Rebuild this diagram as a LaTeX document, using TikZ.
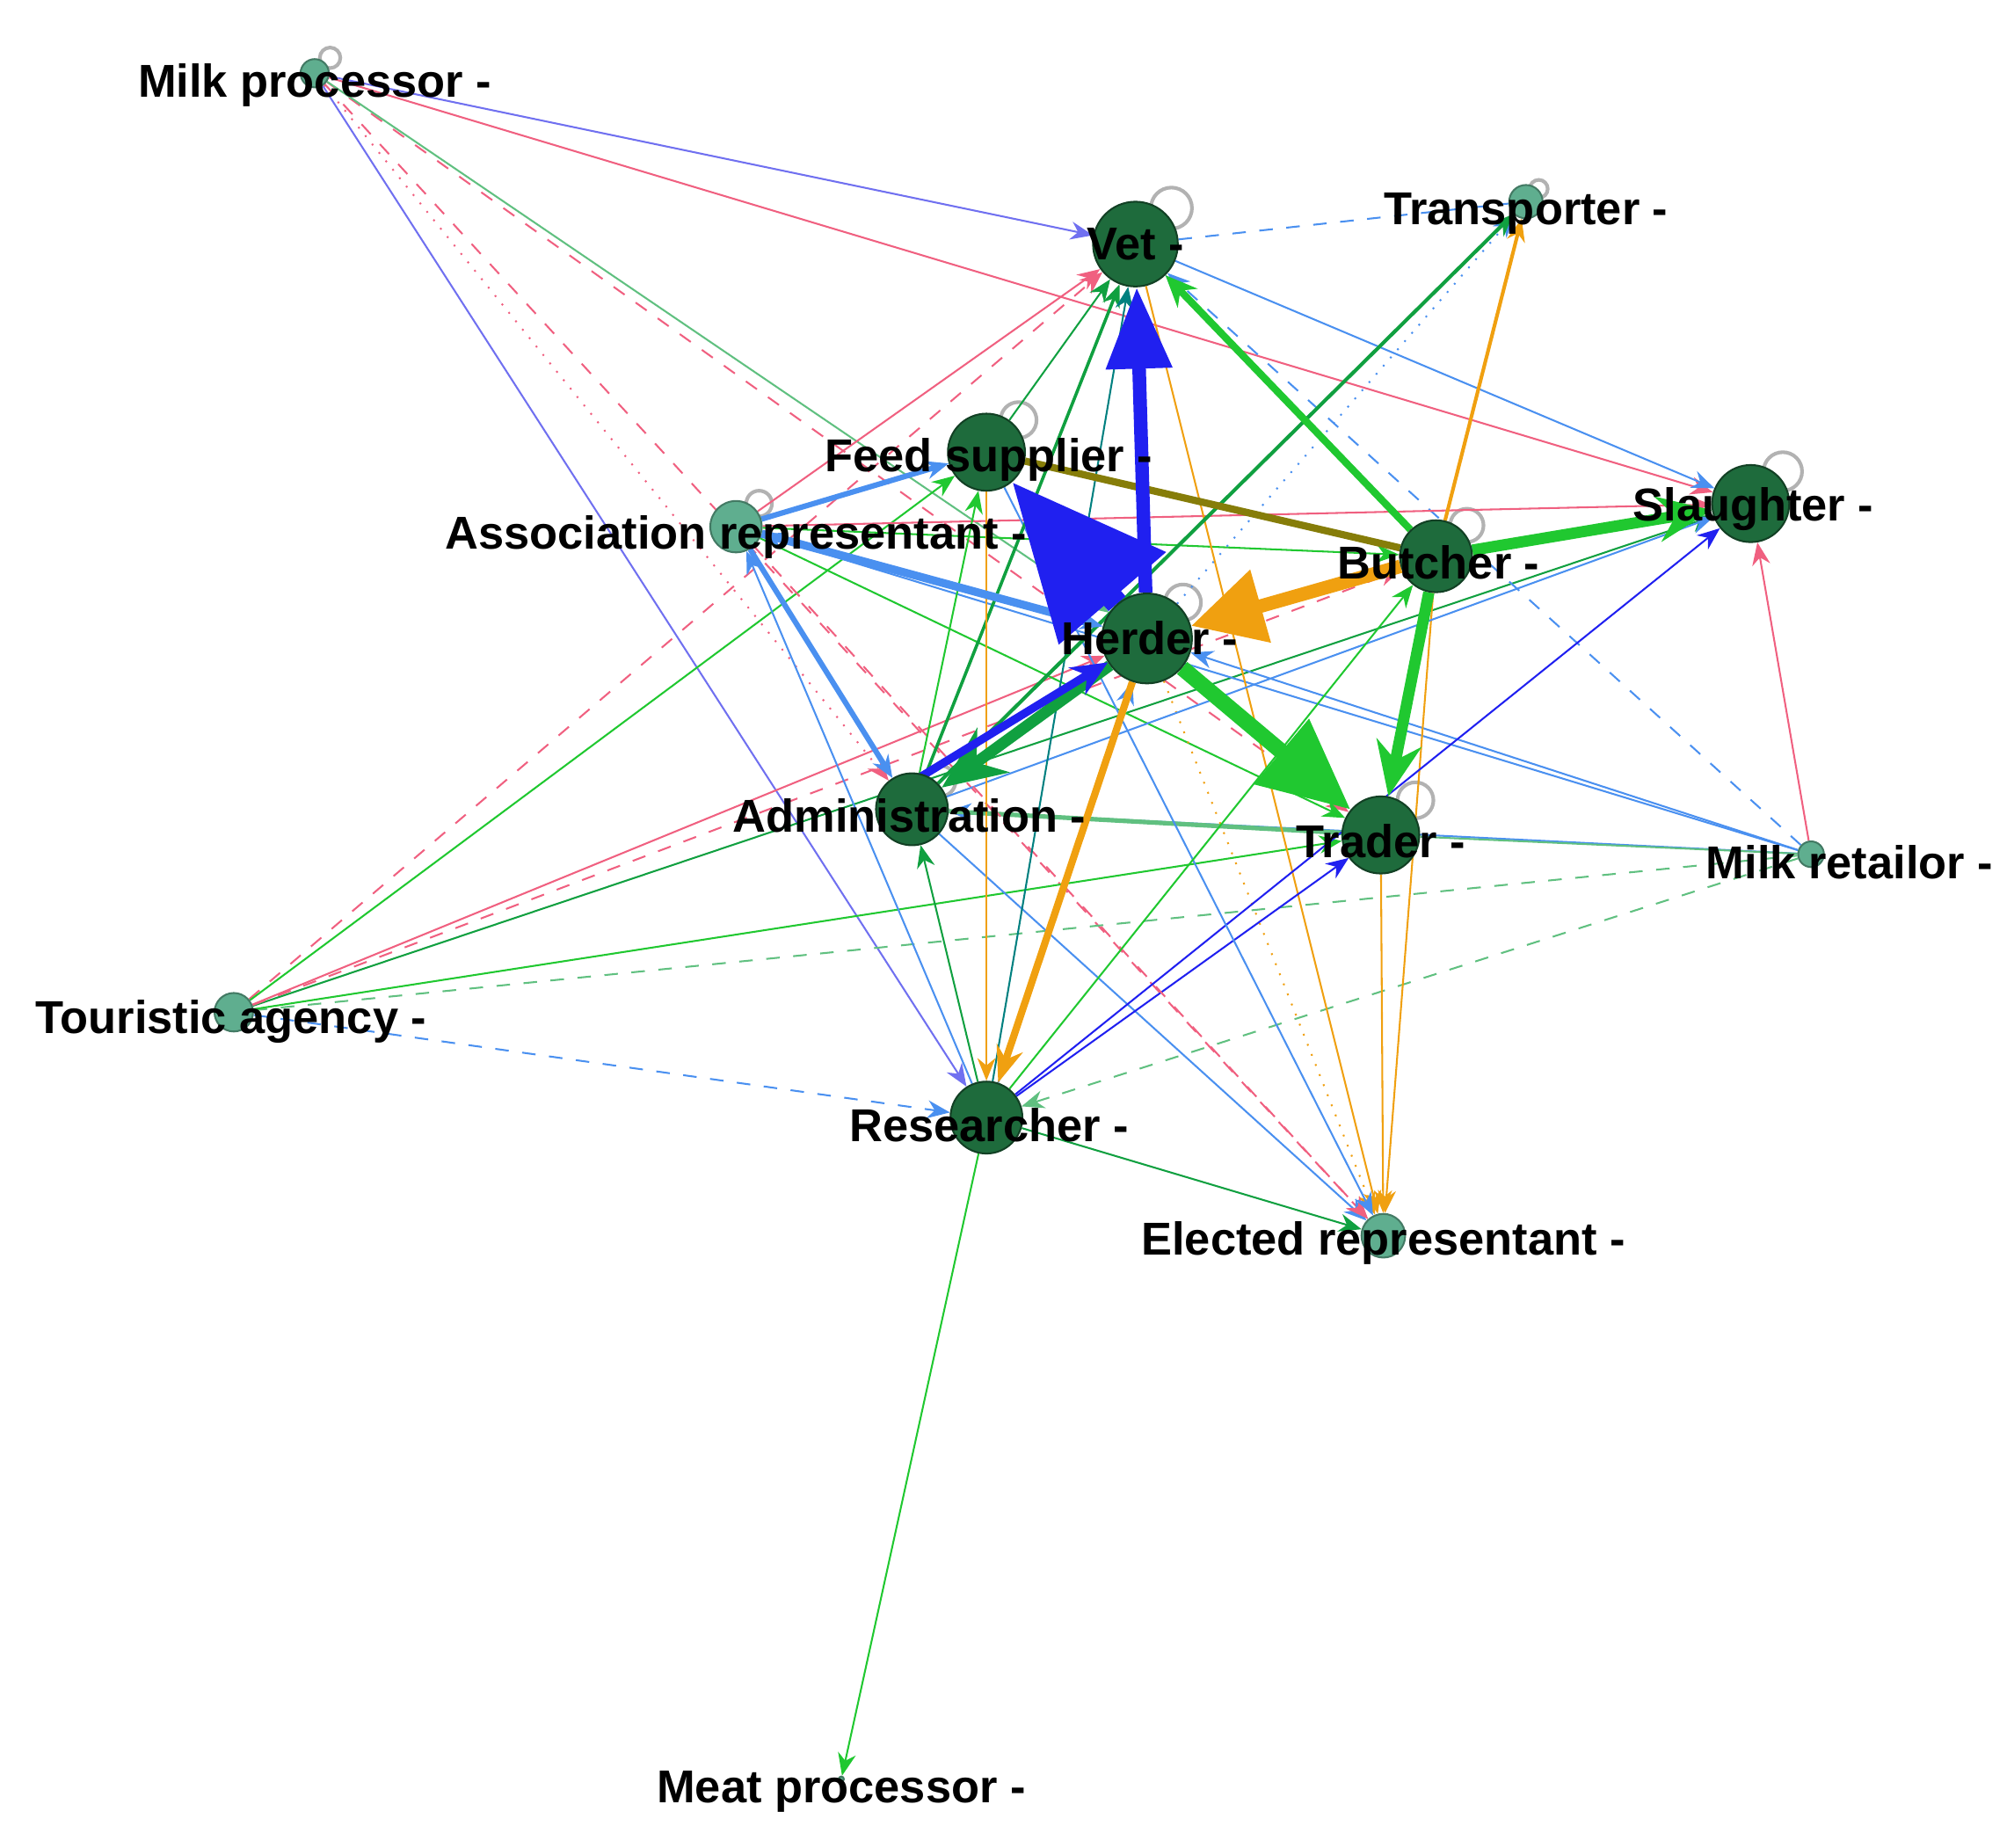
\documentclass[tikz,border=0pt]{standalone}
\usepackage{fontspec}
\setmainfont{Liberation Sans}
\usetikzlibrary{arrows.meta}
\pgfdeclarelayer{bg}\pgfsetlayers{bg,main}
\definecolor{big}{HTML}{1E6B3C}
\definecolor{sm}{HTML}{5FAE8F}
\definecolor{bl}{HTML}{2020F0}
\definecolor{lb}{HTML}{4A90F0}
\definecolor{gr}{HTML}{20C830}
\definecolor{dg}{HTML}{10A040}
\definecolor{or}{HTML}{F0A010}
\definecolor{pk}{HTML}{F06080}
\definecolor{pu}{HTML}{7070F0}
\definecolor{lg}{HTML}{60C080}
\tikzset{
 bign/.style={circle,fill=big,draw=big!60!black,inner sep=0pt,minimum size=#1*0.01cm},
 smn/.style={circle,fill=sm,draw=sm!70!black,inner sep=0pt,minimum size=#1*0.01cm},
 lab/.style={font=\fontsize{10.2}{12}\selectfont\bfseries,inner sep=0pt},
 e/.style={line width=0.4pt},
 a/.style={-{Stealth[length=5pt,width=4pt]}},
 th/.style={line width=#1},
 loop/.style={draw=gray!60,line width=0.8pt,fill=none}
}
\begin{document}
\begin{tikzpicture}[x=0.01cm,y=-0.01cm]
\useasboundingbox (0,0) rectangle (1568,1438);
\node[smn=22] (mp) at (245,57) {};
\node[bign=66] (vet) at (884,190) {};
\node[smn=26] (tr) at (1188,157) {};
\node[bign=60] (fs) at (768,352) {};
\node[smn=40] (as) at (573,410) {};
\node[bign=60] (sl) at (1363,392) {};
\node[bign=56] (bu) at (1118,433) {};
\node[bign=70] (he) at (893,497) {};
\node[bign=56] (ad) at (710,630) {};
\node[bign=60] (td) at (1075,650) {};
\node[smn=20] (mr) at (1410,665) {};
\node[smn=30] (ta) at (182,788) {};
\node[bign=56] (re) at (768,870) {};
\node[smn=34] (el) at (1077,962) {};
\node[smn=4] (me) at (655,1385) {};
\begin{pgfonlayer}{bg}
\foreach \n/\dx/\r in {vet/28/16,fs/25/14,sl/25/15,bu/24/13,he/28/14,td/27/14,as/18/10,ad/22/12,mp/12/8,tr/10/7}{
 \draw[loop] ([shift={(\dx,-\dx)}]\n.center) circle[radius=\r];}
% thin edges
\draw[e,pu,a] (mp) -- (vet);
\draw[e,pu,a] (mp) -- (re);
\draw[e,pk,a] (mp) -- (sl);
\draw[e,pk,dashed,a] (mp) -- (el);
\draw[e,pk,dashed,a] (mp) -- (td);
\draw[e,lg,a] (mp) -- (he);
\draw[e,pk,dotted,a] (mp) -- (ad);
\draw[e,pk,dashed,a] (ta) -- (vet);
\draw[e,gr,a] (ta) -- (fs);
\draw[e,pk,a] (ta) -- (he);
\draw[e,dg,a] (ta) -- (sl);
\draw[e,lg,dashed] (ta) -- (mr);
\draw[e,gr,a] (ta) -- (td);
\draw[e,lb,dashed,a] (ta) -- (re);
\draw[e,pk,dashed,a] (ta) -- (bu);
\draw[e,lb,dashed,a] (mr) -- (vet);
\draw[e,lb,a] (mr) -- (he);
\draw[e,lb,a] (mr) -- (ad);
\draw[e,lg,dashed,a] (mr) -- (re);
\draw[e,pk,a] (mr) -- (sl);
\draw[e,lb,a] (mr) -- (as);
\draw[e,lg] (td) -- (mr);
\draw[e,lg,line width=1pt] (ad) -- (td);
\draw[e,dg,a] (re) -- (el);
\draw[e,gr,a] (re) -- (me);
\draw[e,lb,a] (ad) -- (el);
\draw[e,gr,a] (as) -- (td);
\draw[e,pk,a] (as) -- (sl);
\draw[e,pk,a] (as) -- (vet);
\draw[e,gr,a] (as) -- (bu);
\draw[e,dg,a] (fs) -- (vet);
\draw[e,lb,dotted,a] (he) -- (tr);
\draw[e,lb,dashed] (vet) -- (tr);
\draw[e,lb,a] (vet) -- (sl);
\draw[e,lb,dashed,a] (bu) -- (vet);
\draw[e,or,a] (vet) -- (el);
\draw[e,or,a] (td) -- (el);
\draw[e,or,a] (bu) -- (el);
\draw[e,or,dotted,a] (he) -- (el);
\draw[e,bl,a] (re) -- (sl);
\draw[e,bl,a] (re) -- (td);
\draw[e,lb,a] (ad) -- (sl);
\draw[e,pk,dashed,a] (as) -- (el);
\draw[e,lb,a] (fs) -- (el);
\draw[e,gr,a] (re) -- (bu);
\draw[e,lb,a] (re) -- (as);
\draw[e,dg,a] (re) -- (ad);
\draw[e,dg,line width=0.7pt,a] (ad) -- (vet);
\draw[e,teal,a] (re) -- (vet);
\draw[e,or,a] (fs) -- (re);
\draw[e,or,line width=0.8pt,a] (bu) -- (tr);
\draw[e,dg,line width=0.8pt,a] (ad) -- (tr);
\draw[e,lb,a] (re) -- (he);
\draw[e,gr,a] (ad) -- (fs);
% thick edges
\draw[lb,th=1.2pt,a] (as) -- (fs);
\draw[lb,th=1.2pt,a] (as) -- (ad);
\draw[lb,th=1.8pt,a] (as) -- (he);
\draw[or!80!green!70!black,th=1.6pt] (fs) -- (bu);
\draw[gr,th=1.6pt,-{Stealth[length=7pt,width=6pt]}] (bu) -- (vet);
\draw[or,th=1.6pt,-{Stealth[length=8pt,width=6pt]}] (he) -- (re);
\draw[gr,th=2.5pt,-{Stealth[length=12pt,width=10pt]}] (bu) -- (sl);
\draw[gr,th=2.5pt,-{Stealth[length=12pt,width=10pt]}] (bu) -- (td);
\draw[dg,th=2.5pt,-{Stealth[length=14pt,width=12pt]}] (he) -- (ad);
\draw[bl,th=1.8pt,-{Stealth[length=8pt,width=7pt]}] ([yshift=6]ad.center) -- (he);
\draw[or,th=3pt,-{Triangle[length=16pt,width=16pt]}] (bu) -- (he);
\draw[gr,th=3.5pt,-{Triangle[length=20pt,width=18pt]}] (he) -- (td);
\draw[bl,th=3pt,-{Triangle[length=18pt,width=14pt]}] (he) -- (vet);
\draw[bl,th=5pt,-{Triangle[length=34pt,width=30pt]}] (he) -- (fs);
\end{pgfonlayer}
\node[lab] (mpL) at (245,66) {Milk processor -};
\node[lab] (vetL) at (884,190) {Vet -};
\node[lab] (trL) at (1188,166) {Transporter -};
\node[lab] (fsL) at (770,358) {Feed supplier -};
\node[lab] (asL) at (573,418) {Association representant -};
\node[lab] (slL) at (1365,396) {Slaughter -};
\node[lab] (buL) at (1120,438) {Butcher -};
\node[lab] (heL) at (895,497) {Herder -};
\node[lab] (adL) at (708,635) {Administration -};
\node[lab] (tdL) at (1075,655) {Trader -};
\node[lab] (mrL) at (1440,671) {Milk retailor -};
\node[lab] (taL) at (180,795) {Touristic agency -};
\node[lab] (reL) at (770,876) {Researcher -};
\node[lab] (elL) at (1077,968) {Elected representant -};
\node[lab] (meL) at (655,1395) {Meat processor -};
\end{tikzpicture}
\end{document}
